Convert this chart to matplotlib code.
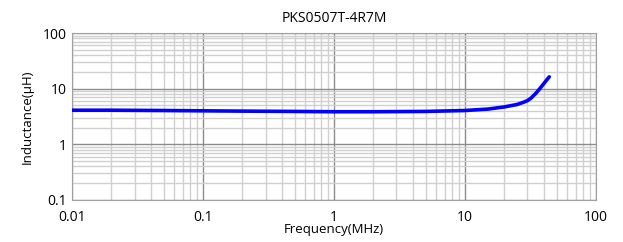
import numpy as np
import matplotlib.pyplot as plt
from matplotlib.ticker import FixedLocator, FixedFormatter, LogLocator, NullFormatter

plt.rcParams['font.family'] = ['Open Sans', 'DejaVu Sans']

# inductance vs frequency
freq = [0.01, 0.02, 0.05, 0.1, 0.2, 0.5, 1, 2, 5, 10, 15, 20, 25, 28, 30, 32, 35, 38, 41, 44]
induct = [4.1, 4.1, 4.05, 4.0, 3.95, 3.9, 3.85, 3.85, 3.9, 4.05, 4.3, 4.7, 5.2, 5.7, 6.1, 6.8, 8.4, 10.6, 13.3, 16.3]

xticks = [0.01, 0.1, 1, 10, 100]
xlabels = ['0.01', '0.1', '1', '10', '100']
yticks = [0.1, 1, 10, 100]
ylabels = ['0.1', '1', '10', '100']

fig = plt.figure(figsize=(6.23, 2.42), dpi=100)
ax = fig.add_axes([0.1156, 0.1736, 0.841, 0.69])

ax.plot(freq, induct, color='#0000ff', lw=2.6, solid_capstyle='round', zorder=3)

ax.set_xscale('log')
ax.set_yscale('log')
ax.set_xlim(0.01, 100)
ax.set_ylim(0.1, 100)

ax.xaxis.set_major_locator(FixedLocator(xticks))
ax.xaxis.set_major_formatter(FixedFormatter(xlabels))
ax.yaxis.set_major_locator(FixedLocator(yticks))
ax.yaxis.set_major_formatter(FixedFormatter(ylabels))
ax.xaxis.set_minor_locator(LogLocator(base=10, subs=np.arange(2, 10)))
ax.yaxis.set_minor_locator(LogLocator(base=10, subs=np.arange(2, 10)))
ax.xaxis.set_minor_formatter(NullFormatter())
ax.yaxis.set_minor_formatter(NullFormatter())

ax.grid(True, which='major', color='#8c8c8c', lw=1.0)
ax.grid(True, which='minor', color='#d0d0d0', lw=1.0)
ax.tick_params(which='both', length=0, labelsize=10)
ax.tick_params(axis='x', pad=7)
ax.tick_params(axis='y', pad=4)
for s in ax.spines.values():
    s.set_color('#a0a0a0')

ax.set_title('PKS0507T-4R7M', fontsize=10, pad=8)
ax.set_xlabel('Frequency(MHz)', fontsize=9.5, labelpad=-1)
ax.set_ylabel('Inductance(μH)', fontsize=9.5, labelpad=6)

fig.savefig('out.png', dpi=100)
